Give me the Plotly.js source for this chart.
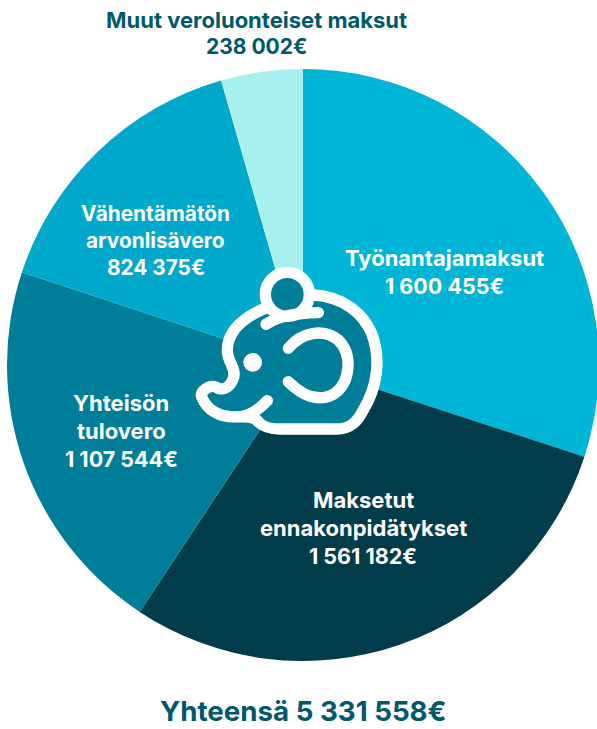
<!DOCTYPE html>
<html><head><meta charset="utf-8">
<script src="https://cdn.plot.ly/plotly-3.0.1.min.js"></script>
<style>html,body{margin:0;padding:0;background:#fff;overflow:hidden}#w{width:597px;height:729px;overflow:hidden}</style></head>
<body><div id="w"><div id="c" style="width:620px;height:729px"></div></div>
<script>
const categories=["Työnantajamaksut","Maksetut ennakonpidätykset","Yhteisön tulovero","Vähentämätön arvonlisävero","Muut veroluonteiset maksut"];
const values=[1600455,1561182,1107544,824375,238002];
const colors=["#00b5d6","#003c4a","#007d99","#00a9cb","#a8f0ee"];
const font="Inter, Lato, sans-serif";
const W=620,H=729;
const textLines=[
 ["Muut veroluonteiset maksut",256,20,"#00586b",22],["238 002€",256,47,"#00586b",21],
 ["Työnantajamaksut",444,258,"#fff",22],["1 600 455€",444,286,"#fff",21.5],
 ["Maksetut",363,500,"#fff",22],["ennakonpidätykset",363,528,"#fff",22],["1 561 182€",363,556,"#fff",21.5],
 ["Yhteisön",121,403,"#fff",22],["tulovero",121,431,"#fff",22],["1 107 544€",121,459,"#fff",21.5],
 ["Vähentämätön",156,213,"#fff",20.8],["arvonlisävero",156,240,"#fff",20.8],["824 375€",156,267,"#fff",20.8],
 ["Yhteensä 5 331 558€",303,710.5,"#00586b",27.7]
];
const teal="#007d99";
const icon=`<svg xmlns="http://www.w3.org/2000/svg" width="${W}" height="${H}" viewBox="0 0 ${W} ${H}"><g transform="translate(180,260) scale(0.3333)" fill="none" stroke="#fff" stroke-width="34" stroke-linecap="round" stroke-linejoin="round">
<path fill="${teal}" d="M255 145 C185 175 140 215 142 275 C145 310 170 325 160 355 C150 385 125 395 105 380 C85 375 60 395 65 410 C80 450 120 475 175 470 C195 470 215 470 230 480 C245 500 265 507 300 507 L470 507 C515 507 535 480 550 450 C590 385 605 300 575 220 C550 160 490 110 400 105 L320 110 Z"/>
<circle cx="322" cy="103" r="66" fill="${teal}"/>
<path d="M258 193 C300 165 350 160 415 158"/>
<path d="M325 265 C365 215 430 205 475 240 C520 285 510 365 465 400 C415 430 365 405 325 365"/>
<path d="M190 468 C220 462 245 440 262 422"/>
<circle cx="218" cy="307" r="13" fill="#fff" stroke-width="30"/>
</g></svg>`;
Plotly.newPlot("c",[{type:"pie",labels:categories,values:values,sort:false,direction:"clockwise",rotation:0,
 marker:{colors:colors,line:{width:0}},textinfo:"none",hoverinfo:"label+value",showlegend:false,
 domain:{x:[7/W,599/W],y:[1-661/H,1-69/H]}}],
 {width:W,height:H,margin:{l:0,r:0,t:0,b:0},paper_bgcolor:"#fff",showlegend:false,
  images:[{source:"data:image/svg+xml;utf8,"+encodeURIComponent(icon),xref:"paper",yref:"paper",x:0,y:1,sizex:1,sizey:1,sizing:"stretch",xanchor:"left",yanchor:"top",layer:"above"}],
  annotations:textLines.map(l=>({text:"<b>"+l[0]+"</b>",xref:"paper",yref:"paper",x:l[1]/W,y:1-l[2]/H,
   xanchor:"center",yanchor:"middle",showarrow:false,align:"center",font:{family:font,size:l[4],color:l[3]}}))
 },{displayModeBar:false});
</script></body></html>
